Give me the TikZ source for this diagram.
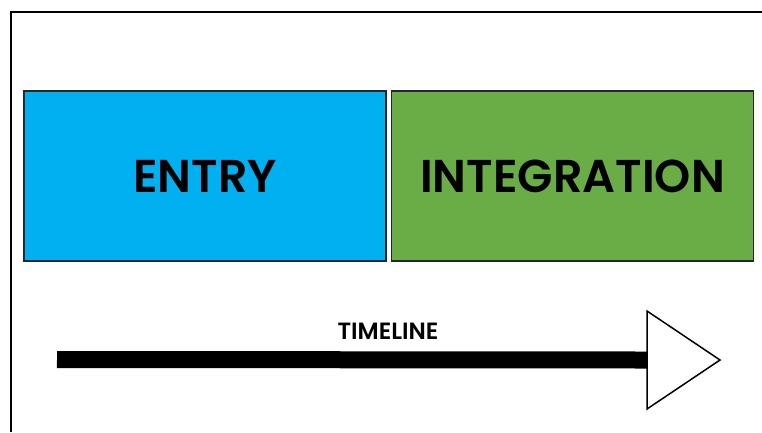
\documentclass[tikz,border=0pt]{standalone}
\usepackage{fontspec}
\setmainfont{Poppins}[BoldFont={Poppins SemiBold}]
\usetikzlibrary{shapes.geometric}
\definecolor{entryblue}{RGB}{0,176,240}
\definecolor{integgreen}{RGB}{106,173,71}
\begin{document}
\begin{tikzpicture}[
   x=1pt, y=-1pt,
   phase/.style={rectangle, draw=black!85, line width=1.2pt, minimum width=362pt, minimum height=170pt,
                 inner sep=0pt, font=\fontsize{46}{50}\selectfont\bfseries},
   head/.style={isosceles triangle, isosceles triangle stretches, shape border rotate=0, draw, fill=white,
                line width=1.5pt, minimum width=98pt, minimum height=73pt, inner sep=0pt, outer sep=0pt},
   bar/.style={-, line width=17pt}
]
\useasboundingbox (0,0) rectangle (762,432);

% frame
\draw[line width=2pt] (10.5,432) -- (10.5,11.5) -- (762,11.5);

% phases
\node[phase, fill=entryblue] (entry) at (205,176) {ENTRY};
\node[phase, fill=integgreen] (integ) at (572.5,176) {INTEGRATION};

% timeline
\node[head, anchor=apex] (tip) at (720,360) {};
\coordinate (start) at (57,359.5);
\draw[bar] (start) -- (tip.lower side);
\node[font=\fontsize{23.5}{26}\selectfont\bfseries] (tl) at (388,331) {TIMELINE};

\end{tikzpicture}
\end{document}
